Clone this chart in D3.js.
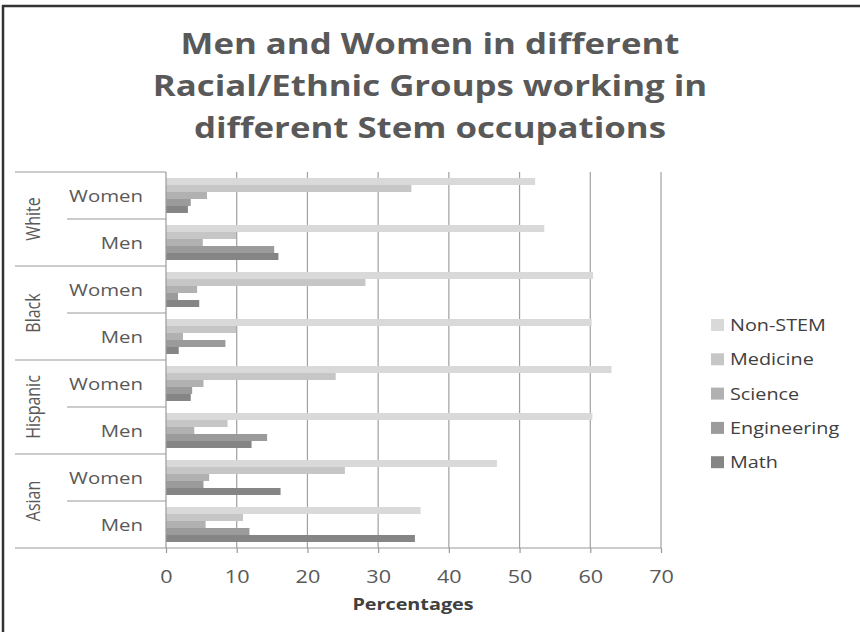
<!DOCTYPE html>
<html>
<head>
<meta charset="utf-8">
<script src="https://cdn.jsdelivr.net/npm/d3@7"></script>
<style>
  html, body { margin: 0; padding: 0; background: #fff; }
  svg { display: block; }
  text { font-family: "Open Sans", Lato, sans-serif; }
</style>
</head>
<body>
<svg id="chart" width="860" height="632"></svg>
<script>
// Racial/ethnic groups and genders, listed top to bottom
const groups = ["White", "Black", "Hispanic", "Asian"];
const genders = ["Women", "Men"];
const seriesNames = ["Non-STEM", "Medicine", "Science", "Engineering", "Math"];
const seriesColors = ["#d9d9d9", "#c6c6c6", "#b1b1b1", "#9b9b9b", "#858585"];

// Percentages per row: White W, White M, Black W, Black M, Hispanic W, Hispanic M, Asian W, Asian M
const nonStem     = [52.2, 53.5, 60.4, 60.2, 63.0, 60.3, 46.8, 36.0];
const medicine    = [34.7,  9.9, 28.2,  9.9, 24.0,  8.7, 25.3, 10.9];
const science     = [ 5.8,  5.2,  4.4,  2.4,  5.3,  4.0,  6.1,  5.6];
const engineering = [ 3.5, 15.3,  1.7,  8.4,  3.7, 14.3,  5.3, 11.8];
const math        = [ 3.1, 15.9,  4.7,  1.8,  3.5, 12.1, 16.2, 35.2];

const xTicks = [0, 10, 20, 30, 40, 50, 60, 70];

const seriesValues = [nonStem, medicine, science, engineering, math];
const rows = [];
groups.forEach(g => genders.forEach(s => rows.push({ group: g, gender: s, key: g + "|" + s })));

const svg = d3.select("#chart");
const WIDE = 1.2; // horizontal stretch applied to text

// text placed at (x, y) and widened horizontally
function wideText(parent, x, y, str, anchor) {
  return parent.append("g")
    .attr("transform", `translate(${x},${y}) scale(${WIDE},1)`)
    .append("text")
    .attr("text-anchor", anchor || "start")
    .text(str);
}

// outer frame (left and top edges visible)
svg.append("line").attr("x1", 3).attr("x2", 3).attr("y1", 5).attr("y2", 632)
  .attr("stroke", "#333").attr("stroke-width", 2.5);
svg.append("line").attr("x1", 2).attr("x2", 860).attr("y1", 6).attr("y2", 6)
  .attr("stroke", "#333").attr("stroke-width", 2.5);

// title
const titleLines = ["Men and Women in different", "Racial/Ethnic Groups working in", "different Stem occupations"];
const titleG = svg.append("g");
titleLines.forEach((line, i) => {
  wideText(titleG, 430, 54 + i * 42, line, "middle")
    .attr("font-size", 29).attr("font-weight", 700).attr("fill", "#595959");
});

const plotLeft = 166, plotRight = 661, plotTop = 172, plotBottom = 548;
const tableLeft = 15, splitX = 67;

const x = d3.scaleLinear().domain([0, 70]).range([plotLeft, plotRight]);
const y = d3.scaleBand().domain(rows.map(r => r.key)).range([plotTop, plotBottom]).padding(0);
const yInner = d3.scaleBand().domain(seriesNames).range([0, y.bandwidth()]).paddingInner(0).paddingOuter(0.86);

// vertical gridlines
svg.append("g").selectAll("line").data(xTicks.filter(t => t > 0)).join("line")
  .attr("x1", d => x(d)).attr("x2", d => x(d))
  .attr("y1", plotTop).attr("y2", plotBottom)
  .attr("stroke", "#a0a0a0").attr("stroke-width", 1.2);

// bars
const barG = svg.append("g");
seriesNames.forEach((name, si) => {
  barG.append("g").selectAll("rect").data(rows).join("rect")
    .attr("x", x(0))
    .attr("y", r => y(r.key) + yInner(name))
    .attr("width", (r, i) => x(seriesValues[si][i]) - x(0))
    .attr("height", yInner.bandwidth())
    .attr("fill", seriesColors[si]);
});

// category table lines
const lineColor = "#9a9a9a";
const tableG = svg.append("g").attr("stroke", lineColor).attr("stroke-width", 1.2);
groups.forEach(g => {
  const top = y(g + "|Women");
  tableG.append("line").attr("x1", tableLeft).attr("x2", plotLeft).attr("y1", top).attr("y2", top);
  const mid = y(g + "|Men");
  tableG.append("line").attr("x1", splitX).attr("x2", plotLeft).attr("y1", mid).attr("y2", mid);
});
// vertical axis line
tableG.append("line").attr("x1", plotLeft).attr("x2", plotLeft).attr("y1", plotTop).attr("y2", plotBottom);

// x axis: ticks from d3, labels widened
const xAxis = d3.axisBottom(x).tickValues(xTicks).tickSize(5).tickSizeOuter(0).tickFormat("");
const axG = svg.append("g").attr("transform", `translate(0,${plotBottom})`).call(xAxis);
axG.select(".domain").remove();
axG.selectAll(".tick line").attr("stroke", lineColor).attr("stroke-width", 1.2);
axG.selectAll(".tick").each(function (d) {
  wideText(d3.select(this), 0, 35, String(d), "middle")
    .attr("font-size", 18).attr("fill", "#595959");
});
svg.append("line").attr("x1", tableLeft).attr("x2", plotRight).attr("y1", plotBottom).attr("y2", plotBottom)
  .attr("stroke", lineColor).attr("stroke-width", 1.2);

wideText(svg, 413, 610, "Percentages", "middle")
  .attr("font-size", 16.5).attr("font-weight", 700).attr("fill", "#404040");

// gender labels
const genderG = svg.append("g");
rows.forEach(r => {
  wideText(genderG, 143, y(r.key) + y.bandwidth() / 2 + 6, r.gender, "end")
    .attr("font-size", 17).attr("fill", "#595959");
});

// group labels, rotated
svg.append("g").selectAll("text").data(groups).join("text")
  .attr("transform", g => `translate(33,${y(g + "|Women") + y.bandwidth()}) rotate(-90) scale(1,${WIDE})`)
  .attr("dy", "0.35em").attr("text-anchor", "middle")
  .attr("font-size", 16).attr("fill", "#595959")
  .text(g => g);

// legend
const legend = svg.append("g").attr("transform", "translate(711,325)");
const item = legend.selectAll("g").data(seriesNames).join("g")
  .attr("transform", (d, i) => `translate(0,${i * 34.3})`);
item.append("rect").attr("x", 0).attr("y", -6).attr("width", 13).attr("height", 12)
  .attr("fill", (d, i) => seriesColors[i]);
item.each(function (d) {
  wideText(d3.select(this), 19, 6, d, "start")
    .attr("font-size", 16.5).attr("fill", "#404040");
});
</script>
</body>
</html>
